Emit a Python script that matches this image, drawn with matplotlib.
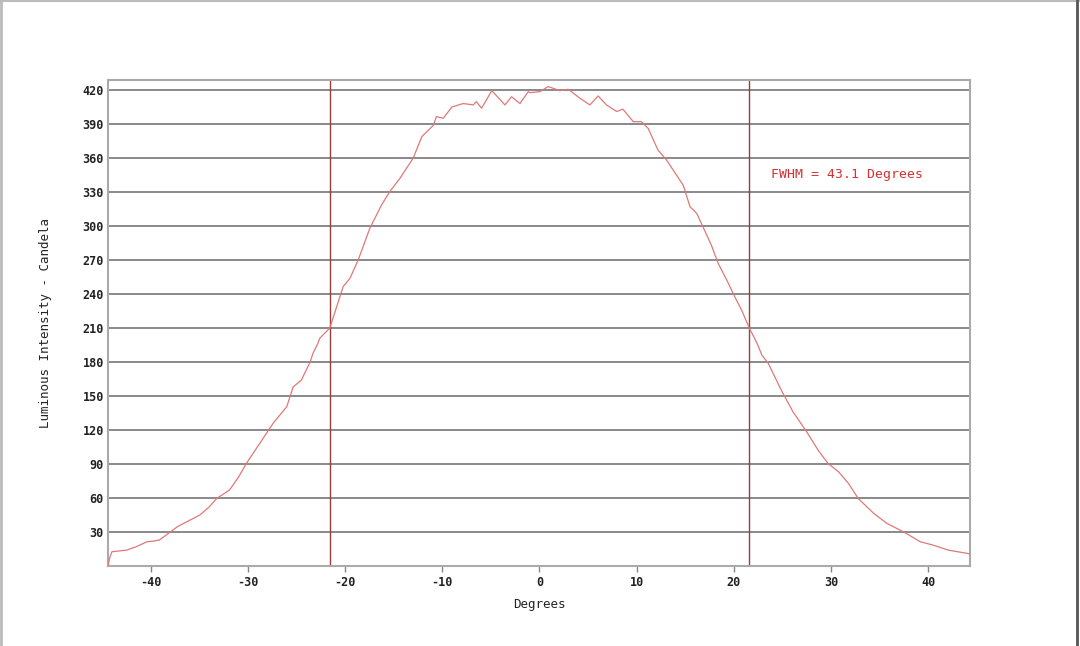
import matplotlib
matplotlib.use("Agg")
import matplotlib.pyplot as plt
from matplotlib.lines import Line2D

# Data
angle_deg = [-44.4, -44.2, -44.0, -42.5, -41.5, -40.4, -39.7, -39.1, -38.0, -37.2, -36.3,
             -34.95, -34.0, -33.2, -31.9, -31.0, -30.15, -28.8, -27.4, -26.0, -25.35,
             -24.5, -23.6, -23.3, -22.8, -22.6, -21.57, -20.2, -19.5, -18.65, -17.45,
             -16.25, -15.4, -14.36, -13.0, -12.1, -10.9, -10.6, -9.9, -9.0, -7.85,
             -6.8, -6.5, -5.95, -4.9, -3.55, -2.86, -2.0, -1.15, -0.98, 0.05, 0.9,
             2.1, 2.97, 4.17, 5.2, 6.05, 6.9, 7.95, 8.6, 9.66, 10.5, 11.2, 12.2,
             13.1, 14.1, 14.8, 15.5, 16.2, 16.9, 17.7, 18.4, 19.3, 20.1, 20.8, 21.6,
             22.4, 22.9, 23.55, 24.9, 26.1, 27.5, 28.7, 29.7, 30.8, 31.8, 32.8,
             34.4, 35.75, 37.5, 39.2, 40.5, 42.1, 44.0, 44.4]
intensity_cd = [0, 8, 12.6, 14, 17, 21.4, 22, 23, 30, 35, 39,
                45, 52, 59.7, 67, 78, 90.6, 108, 126, 140.6, 158,
                164, 180, 187.7, 196.5, 201, 210, 246.5, 253.8, 270, 298,
                318.5, 330.3, 342, 359.7, 378.8, 389, 396.5, 395, 405, 408,
                406.8, 409.7, 403.9, 419.4, 406.8, 414, 408, 418.5, 417.6, 418.5, 423,
                419.4, 420.6, 412.7, 406.8, 414.7, 406.8, 401, 403, 392, 392, 386, 367,
                358, 345, 336, 317, 311, 298, 283, 267, 252, 237.6, 226, 210,
                196.5, 186, 178.9, 155, 136, 118.5, 102, 90.6, 83, 73, 59.7,
                46.5, 37.7, 30, 21.4, 18.5, 14, 11.2, 10.5]
fwhm_edges = [-21.57, 21.57]
y_ticks = [30, 60, 90, 120, 150, 180, 210, 240, 270, 300, 330, 360, 390, 420]
x_ticks = [-40, -30, -20, -10, 0, 10, 20, 30, 40]
annotation = "FWHM = 43.1 Degrees"

fig = plt.figure(figsize=(10.8, 6.46), dpi=100)
ax = fig.add_axes([0.1, 0.1238, 0.798, 0.7524])

ax.set_xlim(-44.4, 44.3)
ax.set_ylim(0, 428.8)

for yv in y_ticks:
    ax.axhline(yv, color="#808080", lw=1.3, zorder=1)

for xv in fwhm_edges:
    ax.axvline(xv, color="#9c3c3c", lw=1.0, zorder=2)

ax.plot(angle_deg, intensity_cd, color="#e07878", lw=0.9, zorder=3)

mono = "DejaVu Sans Mono"
ax.text(23.8, 345, annotation, color="#d83030", fontsize=9.5,
        family=mono, va="center", ha="left")

ax.set_yticks(y_ticks)
ax.set_yticklabels([str(v) for v in y_ticks], family=mono, fontsize=8.5,
                   color="#222222", fontweight="bold")
ax.set_xticks(x_ticks)
ax.set_xticklabels([str(v) for v in x_ticks], family=mono, fontsize=8.5,
                   color="#222222", fontweight="bold")
ax.tick_params(axis="y", length=0, pad=3)
ax.tick_params(axis="x", length=4, width=1, color="#888888", pad=3)

for sp in ax.spines.values():
    sp.set_color("#aaaaaa")
    sp.set_linewidth(1.5)

ax.set_xlabel("Degrees", family=mono, fontsize=9, color="#222222", labelpad=7)
ax.set_ylabel("Luminous Intensity - Candela", family=mono, fontsize=9,
              color="#222222", labelpad=22)

# Figure frame
fig.add_artist(Line2D([0.001, 0.001], [0, 1], transform=fig.transFigure,
                      color="#bbbbbb", lw=2))
fig.add_artist(Line2D([0, 1], [0.999, 0.999], transform=fig.transFigure,
                      color="#bbbbbb", lw=1.5))
fig.add_artist(Line2D([0.9975, 0.9975], [0, 1], transform=fig.transFigure,
                      color="#555555", lw=2))

fig.savefig("out.png", dpi=100, facecolor="white")
